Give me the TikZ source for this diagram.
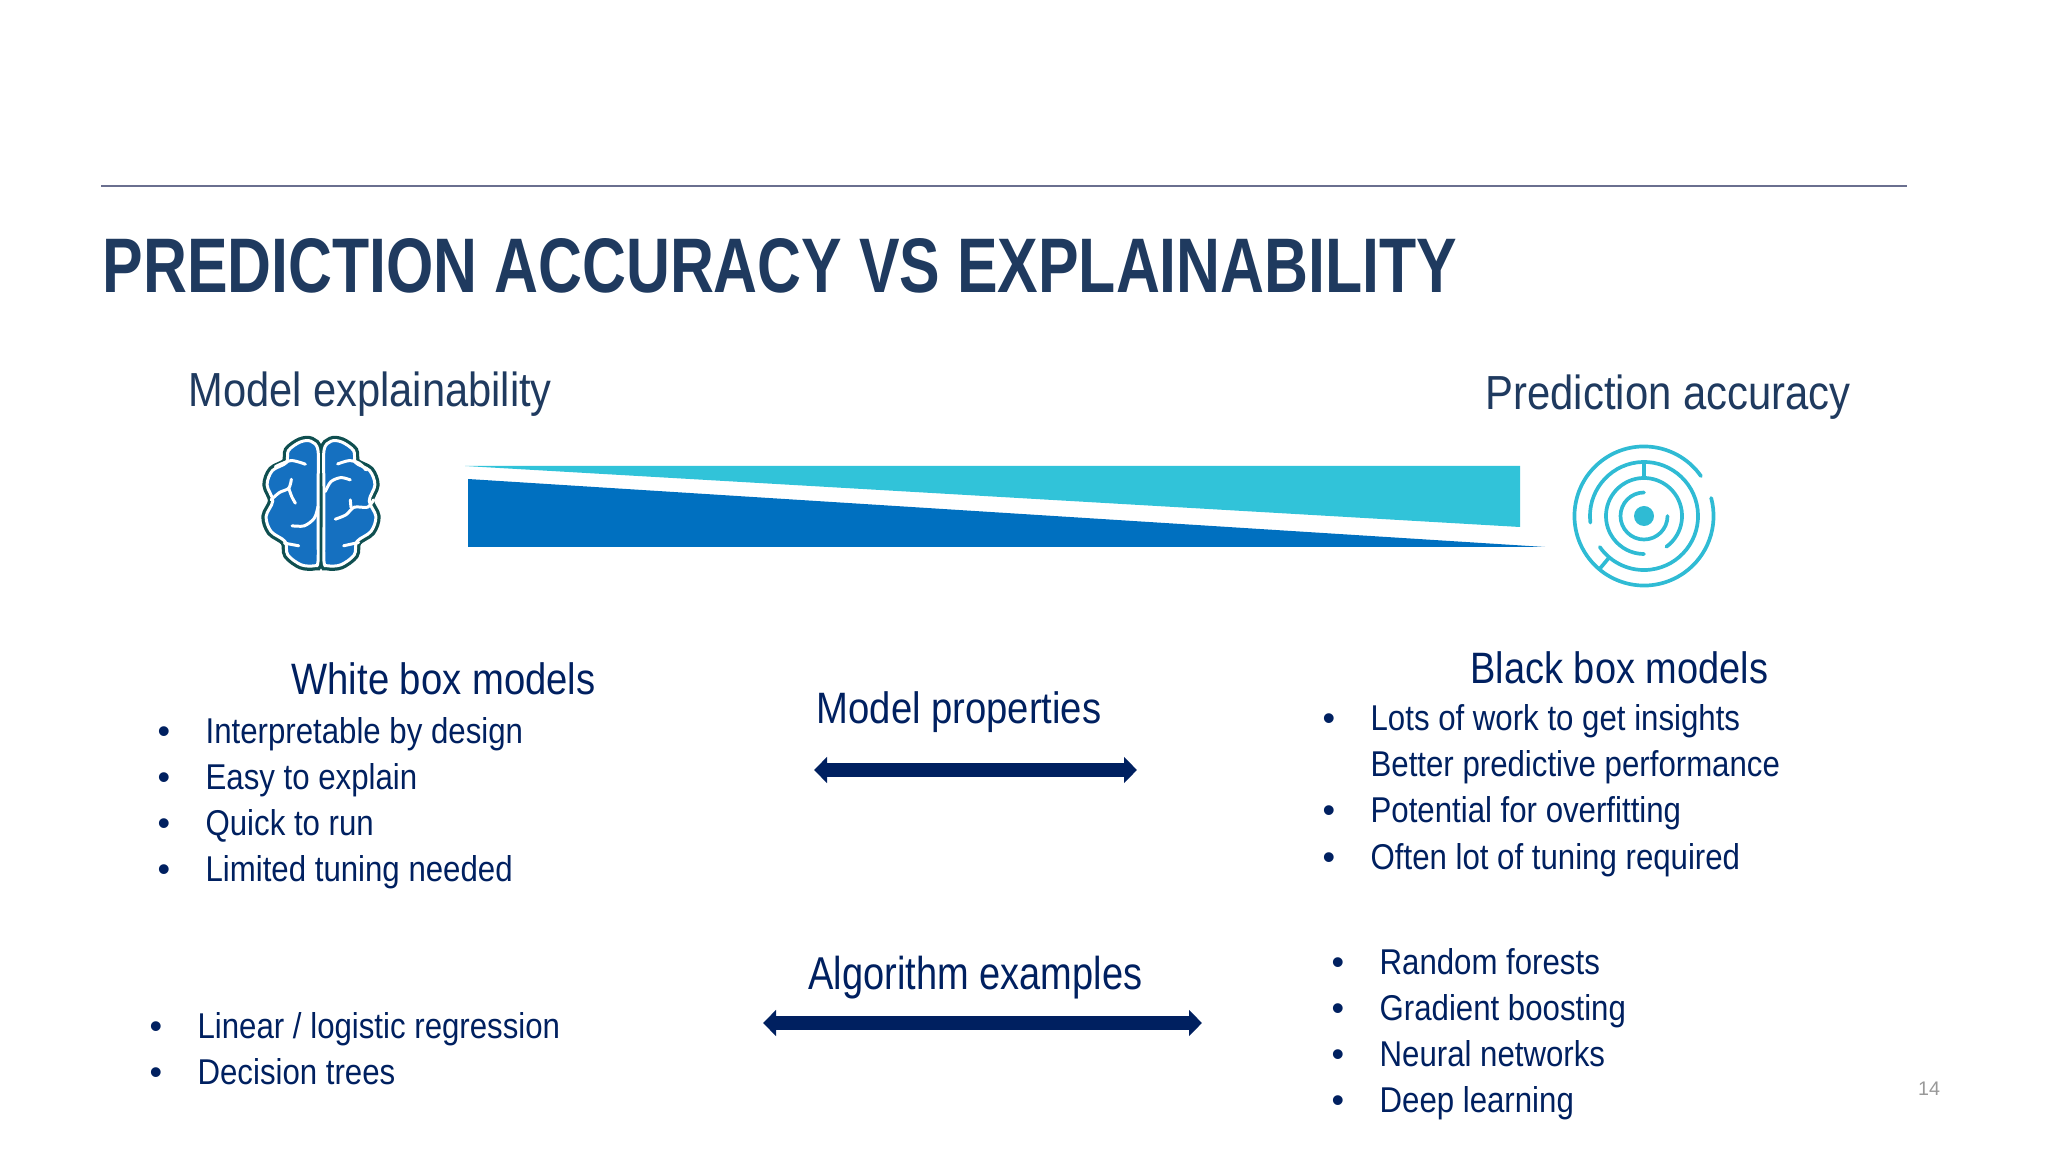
\documentclass[tikz,border=0pt]{standalone}
\usepackage{fontspec}
\setmainfont{Liberation Sans}
\usetikzlibrary{arrows.meta}
\definecolor{navytxt}{HTML}{002060}
\definecolor{slatetxt}{HTML}{1F3A5F}
\definecolor{rulegrey}{HTML}{6A6F8F}
\definecolor{wedgeblue}{HTML}{0070C0}
\definecolor{wedgecyan}{HTML}{31C3D9}
\definecolor{mazecyan}{HTML}{2FBBD4}
\definecolor{brainblue}{HTML}{1570C0}
\definecolor{braingreen}{HTML}{0F4F50}
\tikzset{
	slidetitle/.style={anchor=base west,inner sep=0pt,transform shape,xscale=0.786,text=slatetxt,font=\bfseries\fontsize{22}{26}\selectfont},
	endlabel/.style={anchor=base west,inner sep=0pt,transform shape,xscale=0.87,text=slatetxt,font=\fontsize{13.6}{16}\selectfont},
	headlabel/.style={anchor=base west,inner sep=0pt,transform shape,xscale=0.87,text=navytxt,font=\fontsize{12.5}{15}\selectfont},
	itemtxt/.style={anchor=base west,inner sep=0pt,transform shape,xscale=0.87,text=navytxt,font=\fontsize{10.2}{12}\selectfont},
	bulletdot/.style={anchor=base,inner sep=0pt,text=navytxt,font=\fontsize{10.2}{12}\selectfont},
	dblarrow/.style={navytxt,line width=3.7pt,{Triangle[width=7.2pt,length=3.7pt]}-{Triangle[width=7.2pt,length=3.7pt]}},
	mazeline/.style={mazecyan,line width=1.05pt,line cap=round},
	sulcus/.style={white,line width=0.85pt,line cap=round}
}
\newcommand{\brainlobe}{plot [smooth cycle,tension=0.55] coordinates {(9,92)(30,64)(62,66)(98,92)(104,128)(146,152)(162,195)(145,243)(165,290)(150,335)(108,365)(100,405)(60,435)(20,438)(9,425)(9,320)(9,200)}}
\begin{document}
\begin{tikzpicture}[x=0.01cm,y=-0.01cm]
	\useasboundingbox (0,0) rectangle (2048,1152);
	% Rule and title
	\draw [rulegrey,line width=0.35pt] (101,186) -- (1907,186);
	\node [slidetitle] (title) at (102,293) {PREDICTION ACCURACY VS EXPLAINABILITY};
	\node [endlabel] (explain) at (188,407) {Model explainability};
	\node [endlabel,xscale=1.005] (accuracy) at (1485,410) {Prediction accuracy};
	% Wedges
	\fill [wedgecyan] (465,466) -- (1520,466) -- (1520,527) -- cycle;
	\fill [wedgeblue] (468,479) -- (1545,547) -- (468,547) -- cycle;
	% Brain
	\begin{scope}[shift={(321,420)},x=0.00333cm,y=-0.00333cm]
		\draw [braingreen,line width=2.7pt] \brainlobe;
		\draw [braingreen,line width=2.7pt,xscale=-1] \brainlobe;
		\draw [fill=brainblue,draw=white,line width=0.85pt] \brainlobe;
		\draw [fill=brainblue,draw=white,line width=0.85pt,xscale=-1] \brainlobe;
		\draw [sulcus] plot [smooth] coordinates {(50,132)(85,122)(115,130)(135,150)};
		\draw [sulcus] plot [smooth] coordinates {(88,180)(60,173)(30,185)(13,215)};
		\draw [sulcus] (88,240) -- (90,262);
		\draw [sulcus] plot [smooth] coordinates {(43,298)(75,285)(100,262)(140,262)(158,240)};
		\draw [sulcus] (68,378) -- (113,368);
		\draw [sulcus] plot [smooth] coordinates {(-47,133)(-90,122)(-137,140)};
		\draw [sulcus] plot [smooth] coordinates {(-89,178)(-97,205)(-125,218)(-150,240)};
		\draw [sulcus] plot [smooth] coordinates {(-97,205)(-88,230)(-77,250)};
		\draw [sulcus] plot [smooth] coordinates {(-87,318)(-50,318)(-20,295)(-9,260)};
		\draw [sulcus] (-67,378) -- (-110,370);
	\end{scope}
	% Maze
	\coordinate (mazec) at (1644,516);
	\fill [mazecyan] (mazec) circle [radius=0.1cm];
	\draw [mazeline] (mazec) ++(35:0.695cm) arc [start angle=35,end angle=375,radius=0.695cm];
	\draw [mazeline] (mazec) ++(187:0.54cm) arc [start angle=187,end angle=-145,radius=0.54cm];
	\draw [mazeline] (mazec) ++(-54:0.38cm) arc [start angle=-54,end angle=270,radius=0.38cm];
	\draw [mazeline] (mazec) ++(90:0.235cm) arc [start angle=90,end angle=360,radius=0.235cm];
	\draw [mazeline] (mazec) ++(90:0.38cm) -- ++(90:0.16cm);
	\draw [mazeline] (mazec) ++(230:0.54cm) -- ++(230:0.155cm);
	% White box column
	\node [headlabel] (whitehead) at (291,695) {White box models};
	\node [bulletdot] (wa) at (164,743) {•};
	\node [itemtxt] (wta) at (205,743) {Interpretable by design};
	\node [bulletdot] (wb) at (164,789) {•};
	\node [itemtxt] (wtb) at (205,789) {Easy to explain};
	\node [bulletdot] (wc) at (164,835) {•};
	\node [itemtxt] (wtc) at (205,835) {Quick to run};
	\node [bulletdot] (wd) at (164,881) {•};
	\node [itemtxt] (wtd) at (205,881) {Limited tuning needed};
	\node [bulletdot] (wle) at (156,1038) {•};
	\node [itemtxt] (wtle) at (197,1038) {Linear / logistic regression};
	\node [bulletdot] (wlf) at (156,1084) {•};
	\node [itemtxt] (wtlf) at (197,1084) {Decision trees};
	% Middle column
	\node [headlabel] (propslabel) at (816,723) {Model properties};
	\coordinate (propsl) at (814,770);
	\coordinate (propsr) at (1137,770);
	\draw [dblarrow] (propsl) -- (propsr);
	\node [headlabel,font=\fontsize{13.1}{16}\selectfont,xscale=0.948] (algolabel) at (808,989) {Algorithm examples};
	\coordinate (algol) at (763,1023);
	\coordinate (algor) at (1202,1023);
	\draw [dblarrow] (algol) -- (algor);
	% Black box column
	\node [headlabel,xscale=0.993] (blackhead) at (1470,683) {Black box models};
	\node [bulletdot] (ba) at (1329,730) {•};
	\node [itemtxt] (bta) at (1370,730) {Lots of work to get insights};
	\node [itemtxt] (btb) at (1370,776) {Better predictive performance};
	\node [bulletdot] (bc) at (1329,822) {•};
	\node [itemtxt] (btc) at (1370,822) {Potential for overfitting};
	\node [bulletdot] (bd) at (1329,869) {•};
	\node [itemtxt] (btd) at (1370,869) {Often lot of tuning required};
	\node [bulletdot] (be) at (1338,974) {•};
	\node [itemtxt] (bte) at (1379,974) {Random forests};
	\node [bulletdot] (bf) at (1338,1020) {•};
	\node [itemtxt] (btf) at (1379,1020) {Gradient boosting};
	\node [bulletdot] (bg) at (1338,1066) {•};
	\node [itemtxt] (btg) at (1379,1066) {Neural networks};
	\node [bulletdot] (bh) at (1338,1112) {•};
	\node [itemtxt] (bth) at (1379,1112) {Deep learning};
	% Page number
	\node [anchor=base,inner sep=0pt,text=gray!80,font=\fontsize{5.6}{7}\selectfont] (pagenum) at (1929,1095) {14};
\end{tikzpicture}
\end{document}
